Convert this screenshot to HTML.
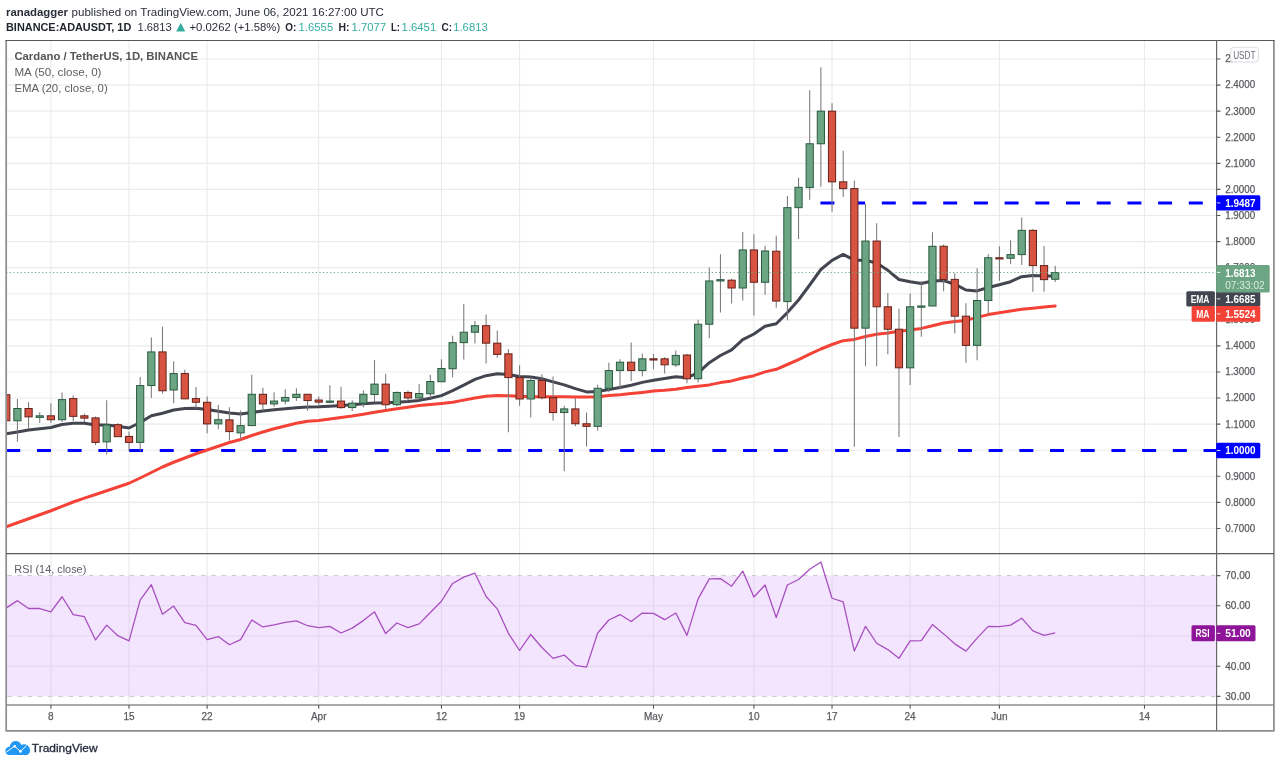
<!DOCTYPE html>
<html><head><meta charset="utf-8"><title>ADAUSDT chart</title>
<style>
html,body{margin:0;padding:0;background:#fff;}
body{width:1280px;height:765px;overflow:hidden;position:relative;font-family:"Liberation Sans", sans-serif;}
svg text{font-family:"Liberation Sans", sans-serif;}
svg{filter:blur(0.4px);}
</style></head><body>
<svg width="1280" height="765" viewBox="0 0 1280 765" style="position:absolute;left:0;top:0">
<defs>
<clipPath id="cm"><rect x="6.2" y="40.5" width="1210.3999999999999" height="513.1"/></clipPath>
<clipPath id="cr"><rect x="6.2" y="553.6" width="1210.3999999999999" height="151.39999999999998"/></clipPath>
</defs>
<rect width="1280" height="765" fill="#fff"/>
<path d="M50.90 40.5 V705.0 M129.01 40.5 V705.0 M207.13 40.5 V705.0 M318.72 40.5 V705.0 M441.46 40.5 V705.0 M519.58 40.5 V705.0 M653.49 40.5 V705.0 M753.92 40.5 V705.0 M832.03 40.5 V705.0 M910.14 40.5 V705.0 M999.42 40.5 V705.0 M1144.48 40.5 V705.0 M6.2 528.49 H1216.6 M6.2 502.41 H1216.6 M6.2 476.32 H1216.6 M6.2 450.24 H1216.6 M6.2 424.16 H1216.6 M6.2 398.07 H1216.6 M6.2 371.99 H1216.6 M6.2 345.91 H1216.6 M6.2 319.83 H1216.6 M6.2 293.74 H1216.6 M6.2 267.66 H1216.6 M6.2 241.58 H1216.6 M6.2 215.49 H1216.6 M6.2 189.41 H1216.6 M6.2 163.33 H1216.6 M6.2 137.24 H1216.6 M6.2 111.16 H1216.6 M6.2 85.08 H1216.6 M6.2 59.00 H1216.6" stroke="#ebebed" stroke-width="1.1" fill="none"/>
<rect x="6.2" y="575.60" width="1210.40" height="120.80" fill="#f3e5fd"/>
<path d="M6.2 605.80 H1216.6 M6.2 636.00 H1216.6 M6.2 666.20 H1216.6" stroke="#e4d5ef" stroke-width="1.1" fill="none"/>
<path d="M50.90 575.60 V696.40 M129.01 575.60 V696.40 M207.13 575.60 V696.40 M318.72 575.60 V696.40 M441.46 575.60 V696.40 M519.58 575.60 V696.40 M653.49 575.60 V696.40 M753.92 575.60 V696.40 M832.03 575.60 V696.40 M910.14 575.60 V696.40 M999.42 575.60 V696.40 M1144.48 575.60 V696.40" stroke="#e4d6ee" stroke-width="1.1" fill="none"/>
<path d="M6.2 575.60 H1216.6" stroke="#c9c4cf" stroke-width="1" stroke-dasharray="4.3 5.9" stroke-dashoffset="-1.2" fill="none"/>
<path d="M6.2 696.40 H1216.6" stroke="#c9c4cf" stroke-width="1" stroke-dasharray="4.3 5.9" stroke-dashoffset="-1.2" fill="none"/>
<g clip-path="url(#cm)">
<path d="M6.25 450.54 H1216.6" stroke="#0000ff" stroke-width="3" stroke-dasharray="14 16.7" fill="none"/>
<path d="M820.4 202.99 H1216.6" stroke="#0000ff" stroke-width="3" stroke-dasharray="14 16.7" fill="none"/>
<polyline points="6.26,526.75 17.42,522.75 28.58,518.75 39.74,514.75 50.90,510.75 62.06,506.40 73.22,502.00 84.38,498.20 95.54,494.50 106.69,490.75 117.85,487.00 129.01,483.25 140.17,478.00 151.33,472.50 162.49,467.00 173.65,462.25 184.81,458.00 195.97,453.75 207.13,450.00 218.29,446.25 229.44,442.50 240.60,439.50 251.76,435.50 262.92,432.00 274.08,428.75 285.24,426.00 296.40,423.25 307.56,421.25 318.72,420.50 329.88,419.00 341.03,417.50 352.19,416.10 363.35,414.20 374.51,412.30 385.67,410.50 396.83,408.80 407.99,407.20 419.15,405.60 430.31,404.50 441.46,403.50 452.62,402.30 463.78,400.10 474.94,398.10 486.10,396.30 497.26,395.60 508.42,395.80 519.58,396.30 530.74,396.80 541.90,396.80 553.06,396.80 564.21,396.80 575.37,397.10 586.53,397.10 597.69,396.80 608.85,395.60 620.01,394.80 631.17,393.60 642.33,392.40 653.49,391.10 664.64,390.30 675.80,389.20 686.96,387.50 698.12,386.30 709.28,384.90 720.44,382.60 731.60,380.90 742.76,378.00 753.92,375.70 765.08,371.90 776.24,369.30 787.39,364.50 798.55,359.70 809.71,354.20 820.87,349.00 832.03,344.50 843.19,340.70 854.35,339.40 865.51,336.50 876.67,334.20 887.83,333.00 898.98,331.30 910.14,329.90 921.30,328.40 932.46,325.80 943.62,323.00 954.78,321.50 965.94,320.40 977.10,317.40 988.26,314.60 999.42,312.80 1010.57,311.00 1021.73,309.30 1032.89,308.20 1044.05,307.00 1055.21,305.90" stroke="#f44336" stroke-width="3" fill="none" stroke-linejoin="round" stroke-linecap="round"/>
<polyline points="6.26,433.80 17.42,432.00 28.58,430.10 39.74,428.80 50.90,427.50 62.06,424.50 73.22,423.30 84.38,423.30 95.54,425.00 106.69,425.00 117.85,426.30 129.01,428.00 140.17,422.50 151.33,415.80 162.49,413.30 173.65,410.00 184.81,408.50 195.97,408.30 207.13,409.50 218.29,411.30 229.44,413.00 240.60,414.00 251.76,412.40 262.92,411.00 274.08,409.80 285.24,408.80 296.40,407.80 307.56,407.10 318.72,406.80 329.88,406.20 341.03,405.50 352.19,404.80 363.35,403.80 374.51,402.90 385.67,402.80 396.83,402.30 407.99,401.50 419.15,400.40 430.31,398.30 441.46,395.60 452.62,390.60 463.78,385.20 474.94,379.40 486.10,375.70 497.26,373.70 508.42,374.50 519.58,376.50 530.74,377.00 541.90,378.70 553.06,381.90 564.21,384.90 575.37,388.60 586.53,391.90 597.69,391.40 608.85,389.40 620.01,387.40 631.17,385.20 642.33,382.40 653.49,380.20 664.64,378.40 675.80,376.80 686.96,377.70 698.12,372.80 709.28,362.70 720.44,355.50 731.60,349.80 742.76,339.70 753.92,334.00 765.08,326.20 776.24,323.70 787.39,312.60 798.55,300.00 809.71,285.00 820.87,269.50 832.03,260.40 843.19,254.40 854.35,260.20 865.51,260.20 876.67,263.10 887.83,270.30 898.98,279.50 910.14,281.80 921.30,283.50 932.46,281.00 943.62,280.60 954.78,284.20 965.94,290.00 977.10,290.90 988.26,287.50 999.42,284.70 1010.57,281.70 1021.73,276.70 1032.89,275.50 1044.05,276.00 1055.21,275.90" stroke="#434651" stroke-width="3" fill="none" stroke-linejoin="round" stroke-linecap="round"/>
<path d="M6.26 394.68 V420.77 M17.42 399.12 V441.63 M28.58 402.25 V429.37 M39.74 412.16 V423.11 M50.90 403.29 V423.11 M62.06 392.60 V422.07 M73.22 395.47 V421.03 M84.38 413.72 V422.07 M95.54 416.59 V445.02 M106.69 400.16 V454.41 M117.85 423.37 V436.68 M129.01 431.46 V450.76 M140.17 376.95 V450.76 M151.33 337.56 V398.07 M162.49 326.87 V393.38 M173.65 361.30 V403.29 M184.81 369.64 V398.86 M195.97 387.12 V408.51 M207.13 396.51 V433.29 M218.29 404.86 V429.37 M229.44 407.33 V440.72 M240.60 410.46 V439.15 M251.76 374.73 V425.59 M262.92 387.77 V410.46 M274.08 392.21 V406.81 M285.24 389.34 V404.20 M296.40 388.29 V401.07 M307.56 394.29 V410.72 M318.72 396.38 V404.73 M329.88 385.16 V403.16 M341.03 386.73 V408.64 M352.19 400.29 V410.99 M363.35 390.38 V407.59 M374.51 360.12 V402.12 M385.67 373.69 V408.90 M396.83 391.42 V406.29 M407.99 390.38 V400.03 M419.15 384.12 V398.99 M430.31 374.73 V397.94 M441.46 359.34 V381.77 M452.62 335.87 V377.34 M463.78 304.04 V359.60 M474.94 321.00 V343.43 M486.10 314.48 V363.51 M497.26 330.39 V357.78 M508.42 349.17 V432.37 M519.58 365.34 V405.77 M530.74 377.60 V417.51 M541.90 374.21 V399.51 M553.06 376.56 V420.64 M564.21 405.77 V471.24 M575.37 398.20 V426.37 M586.53 412.55 V446.46 M597.69 384.64 V430.81 M608.85 362.73 V392.21 M620.01 359.34 V389.60 M631.17 342.39 V380.99 M642.33 353.60 V376.29 M653.49 354.12 V369.25 M664.64 357.25 V373.43 M675.80 350.47 V366.90 M686.96 353.73 V383.21 M698.12 319.83 V382.42 M709.28 267.40 V338.34 M720.44 254.36 V312.52 M731.60 278.87 V303.39 M742.76 231.93 V300.52 M753.92 234.27 V315.39 M765.08 245.75 V294.79 M776.24 235.84 V307.83 M787.39 195.93 V320.35 M798.55 177.67 V238.97 M809.71 90.29 V199.84 M820.87 67.34 V186.80 M832.03 103.34 V211.84 M843.19 150.81 V196.97 M854.35 180.54 V446.85 M865.51 204.02 V366.25 M876.67 223.32 V366.25 M887.83 292.96 V354.25 M898.98 308.87 V436.94 M910.14 293.48 V385.03 M921.30 280.96 V336.78 M932.46 232.19 V306.00 M943.62 244.45 V291.13 M954.78 273.14 V333.39 M965.94 303.13 V362.86 M977.10 268.18 V360.25 M988.26 254.36 V314.09 M999.42 246.27 V280.70 M1010.57 240.27 V264.27 M1021.73 217.58 V265.05 M1032.89 229.06 V291.66 M1044.05 246.01 V291.66 M1055.21 265.65 V281.98" stroke="#79797c" stroke-width="1.05" fill="none"/>
<g fill="#6ba583" stroke="#2a5a3f" stroke-width="1"><rect x="13.82" y="408.51" width="7.2" height="12.26"/><rect x="36.14" y="415.81" width="7.2" height="1.56"/><rect x="58.46" y="399.64" width="7.2" height="20.08"/><rect x="103.09" y="424.94" width="7.2" height="16.95"/><rect x="136.57" y="385.55" width="7.2" height="56.86"/><rect x="147.73" y="351.91" width="7.2" height="33.65"/><rect x="170.05" y="373.56" width="7.2" height="16.43"/><rect x="214.69" y="419.72" width="7.2" height="4.17"/><rect x="237.00" y="425.59" width="7.2" height="7.30"/><rect x="248.16" y="394.29" width="7.2" height="31.30"/><rect x="270.48" y="401.07" width="7.2" height="2.87"/><rect x="281.64" y="397.42" width="7.2" height="3.65"/><rect x="292.80" y="394.29" width="7.2" height="3.13"/><rect x="326.27" y="401.07" width="7.2" height="1.20"/><rect x="348.59" y="403.16" width="7.2" height="4.43"/><rect x="359.75" y="394.29" width="7.2" height="8.87"/><rect x="370.91" y="384.12" width="7.2" height="10.43"/><rect x="393.23" y="392.47" width="7.2" height="12.26"/><rect x="415.55" y="393.51" width="7.2" height="4.43"/><rect x="426.71" y="381.51" width="7.2" height="12.26"/><rect x="437.86" y="368.47" width="7.2" height="13.30"/><rect x="449.02" y="342.65" width="7.2" height="26.08"/><rect x="460.18" y="332.21" width="7.2" height="10.43"/><rect x="471.34" y="325.69" width="7.2" height="6.52"/><rect x="527.14" y="380.47" width="7.2" height="18.52"/><rect x="560.61" y="408.90" width="7.2" height="3.65"/><rect x="594.09" y="388.29" width="7.2" height="38.08"/><rect x="605.25" y="370.56" width="7.2" height="17.74"/><rect x="616.41" y="362.21" width="7.2" height="8.35"/><rect x="638.73" y="358.82" width="7.2" height="11.74"/><rect x="672.20" y="355.43" width="7.2" height="9.39"/><rect x="694.52" y="324.26" width="7.2" height="54.51"/><rect x="705.68" y="280.96" width="7.2" height="43.30"/><rect x="716.84" y="279.66" width="7.2" height="1.30"/><rect x="739.16" y="249.92" width="7.2" height="38.08"/><rect x="761.48" y="250.97" width="7.2" height="31.30"/><rect x="783.79" y="207.67" width="7.2" height="93.90"/><rect x="794.95" y="187.32" width="7.2" height="20.34"/><rect x="806.11" y="143.76" width="7.2" height="43.82"/><rect x="817.27" y="111.16" width="7.2" height="32.60"/><rect x="861.91" y="241.05" width="7.2" height="87.12"/><rect x="906.54" y="306.78" width="7.2" height="61.03"/><rect x="917.70" y="306.00" width="7.2" height="1.20"/><rect x="928.86" y="246.27" width="7.2" height="59.73"/><rect x="973.50" y="300.52" width="7.2" height="44.86"/><rect x="984.66" y="257.75" width="7.2" height="42.78"/><rect x="1006.97" y="254.62" width="7.2" height="3.65"/><rect x="1018.13" y="230.36" width="7.2" height="24.26"/><rect x="1051.61" y="272.54" width="7.2" height="6.73"/></g>
<g fill="#d75442" stroke="#66211a" stroke-width="1"><rect x="2.66" y="394.68" width="7.2" height="26.08"/><rect x="24.98" y="408.51" width="7.2" height="8.35"/><rect x="47.30" y="415.81" width="7.2" height="3.91"/><rect x="69.62" y="398.60" width="7.2" height="17.74"/><rect x="80.78" y="415.81" width="7.2" height="2.35"/><rect x="91.94" y="417.90" width="7.2" height="24.52"/><rect x="114.25" y="424.68" width="7.2" height="12.00"/><rect x="125.41" y="436.42" width="7.2" height="6.00"/><rect x="158.89" y="351.91" width="7.2" height="38.86"/><rect x="181.21" y="373.56" width="7.2" height="25.30"/><rect x="192.37" y="398.60" width="7.2" height="3.65"/><rect x="203.53" y="402.25" width="7.2" height="21.65"/><rect x="225.84" y="419.85" width="7.2" height="11.74"/><rect x="259.32" y="394.29" width="7.2" height="9.65"/><rect x="303.96" y="394.29" width="7.2" height="6.26"/><rect x="315.12" y="400.03" width="7.2" height="2.09"/><rect x="337.43" y="401.07" width="7.2" height="6.52"/><rect x="382.07" y="384.12" width="7.2" height="20.61"/><rect x="404.39" y="392.47" width="7.2" height="5.48"/><rect x="482.50" y="325.69" width="7.2" height="17.48"/><rect x="493.66" y="343.17" width="7.2" height="11.22"/><rect x="504.82" y="353.86" width="7.2" height="23.74"/><rect x="515.98" y="377.60" width="7.2" height="21.39"/><rect x="538.30" y="380.47" width="7.2" height="17.21"/><rect x="549.46" y="397.68" width="7.2" height="14.87"/><rect x="571.77" y="408.90" width="7.2" height="14.87"/><rect x="582.93" y="423.77" width="7.2" height="2.61"/><rect x="627.57" y="362.21" width="7.2" height="8.35"/><rect x="649.89" y="358.82" width="7.2" height="1.20"/><rect x="661.04" y="358.82" width="7.2" height="6.00"/><rect x="683.36" y="355.04" width="7.2" height="23.74"/><rect x="728.00" y="280.18" width="7.2" height="7.82"/><rect x="750.32" y="249.92" width="7.2" height="32.34"/><rect x="772.63" y="251.23" width="7.2" height="49.82"/><rect x="828.43" y="111.16" width="7.2" height="70.68"/><rect x="839.59" y="181.85" width="7.2" height="6.78"/><rect x="850.75" y="188.63" width="7.2" height="139.54"/><rect x="873.07" y="241.05" width="7.2" height="65.73"/><rect x="884.23" y="306.78" width="7.2" height="22.43"/><rect x="895.38" y="329.21" width="7.2" height="38.60"/><rect x="940.02" y="246.27" width="7.2" height="33.13"/><rect x="951.18" y="279.40" width="7.2" height="36.78"/><rect x="962.34" y="316.17" width="7.2" height="29.21"/><rect x="995.82" y="257.75" width="7.2" height="1.20"/><rect x="1029.29" y="230.36" width="7.2" height="35.21"/><rect x="1040.45" y="265.57" width="7.2" height="14.08"/></g>
<path d="M6.2 272.54 H1216.6" stroke="#6ba583" stroke-width="1" stroke-dasharray="1.2 2.4" fill="none"/>
</g>
<g clip-path="url(#cr)">
<polyline points="6.26,607.91 17.42,600.67 28.58,608.52 39.74,608.52 50.90,611.84 62.06,596.74 73.22,614.56 84.38,616.67 95.54,639.93 106.69,625.13 117.85,635.70 129.01,640.83 140.17,600.06 151.33,584.66 162.49,614.26 173.65,606.10 184.81,622.71 195.97,625.43 207.13,639.62 218.29,636.60 229.44,644.76 240.60,639.62 251.76,619.99 262.92,626.94 274.08,624.83 285.24,622.41 296.40,620.90 307.56,625.73 318.72,627.54 329.88,626.34 341.03,632.98 352.19,628.15 363.35,620.60 374.51,611.84 385.67,633.58 396.83,623.01 407.99,627.54 419.15,623.92 430.31,612.44 441.46,601.27 452.62,583.45 463.78,577.11 474.94,573.18 486.10,596.44 497.26,608.82 508.42,633.28 519.58,650.50 530.74,634.49 541.90,647.48 553.06,658.35 564.21,655.03 575.37,665.29 586.53,667.11 597.69,632.98 608.85,619.99 620.01,614.56 631.17,621.50 642.33,613.05 653.49,613.35 664.64,619.69 675.80,613.05 686.96,635.40 698.12,598.85 709.28,578.92 720.44,578.62 731.60,586.17 742.76,571.07 753.92,597.04 765.08,584.96 776.24,617.58 787.39,584.96 798.55,579.53 809.71,569.26 820.87,562.01 832.03,598.25 843.19,601.87 854.35,651.10 865.51,626.34 876.67,643.25 887.83,649.59 898.98,658.35 910.14,640.83 921.30,640.53 932.46,624.52 943.62,633.89 954.78,643.85 965.94,651.10 977.10,638.11 988.26,626.34 999.42,626.64 1010.57,625.13 1021.73,618.18 1032.89,630.87 1044.05,635.40 1055.21,632.98" stroke="#a84fc0" stroke-width="1.3" fill="none" stroke-linejoin="round"/>
</g>
<path d="M6.2 40.5 V730.8 M1273.9 40.5 V730.8 M5.4 730.8 H1274.7" stroke="#8c8c8f" stroke-width="1.7" fill="none"/>
<path d="M6.2 705.0 H1273.9" stroke="#8e8e91" stroke-width="1.6" fill="none"/>
<path d="M5.4 40.5 H1274.7 M6.2 553.6 H1273.9" stroke="#58585c" stroke-width="1.2" fill="none"/>
<path d="M1216.6 40.5 V730.8" stroke="#68686c" stroke-width="1.2" fill="none"/>
<path d="M1216.6 528.49 h3.8 M1216.6 502.41 h3.8 M1216.6 476.32 h3.8 M1216.6 450.24 h3.8 M1216.6 424.16 h3.8 M1216.6 398.07 h3.8 M1216.6 371.99 h3.8 M1216.6 345.91 h3.8 M1216.6 319.83 h3.8 M1216.6 293.74 h3.8 M1216.6 267.66 h3.8 M1216.6 241.58 h3.8 M1216.6 215.49 h3.8 M1216.6 189.41 h3.8 M1216.6 163.33 h3.8 M1216.6 137.24 h3.8 M1216.6 111.16 h3.8 M1216.6 85.08 h3.8 M1216.6 59.00 h3.8 M1216.6 575.60 h3.8 M1216.6 605.80 h3.8 M1216.6 636.00 h3.8 M1216.6 666.20 h3.8 M1216.6 696.40 h3.8 M50.90 705.0 v3.8 M129.01 705.0 v3.8 M207.13 705.0 v3.8 M318.72 705.0 v3.8 M441.46 705.0 v3.8 M519.58 705.0 v3.8 M653.49 705.0 v3.8 M753.92 705.0 v3.8 M832.03 705.0 v3.8 M910.14 705.0 v3.8 M999.42 705.0 v3.8 M1144.48 705.0 v3.8" stroke="#55555a" stroke-width="1.1" fill="none"/>
<text x="1225.20" y="531.89" font-size="10" fill="#5b5b60" font-weight="normal" text-anchor="start" textLength="30.00" lengthAdjust="spacingAndGlyphs" stroke="#5b5b60" stroke-width="0.25">0.7000</text>
<text x="1225.20" y="505.81" font-size="10" fill="#5b5b60" font-weight="normal" text-anchor="start" textLength="30.00" lengthAdjust="spacingAndGlyphs" stroke="#5b5b60" stroke-width="0.25">0.8000</text>
<text x="1225.20" y="479.72" font-size="10" fill="#5b5b60" font-weight="normal" text-anchor="start" textLength="30.00" lengthAdjust="spacingAndGlyphs" stroke="#5b5b60" stroke-width="0.25">0.9000</text>
<text x="1225.20" y="453.64" font-size="10" fill="#5b5b60" font-weight="normal" text-anchor="start" textLength="30.00" lengthAdjust="spacingAndGlyphs" stroke="#5b5b60" stroke-width="0.25">1.0000</text>
<text x="1225.20" y="427.56" font-size="10" fill="#5b5b60" font-weight="normal" text-anchor="start" textLength="30.00" lengthAdjust="spacingAndGlyphs" stroke="#5b5b60" stroke-width="0.25">1.1000</text>
<text x="1225.20" y="401.47" font-size="10" fill="#5b5b60" font-weight="normal" text-anchor="start" textLength="30.00" lengthAdjust="spacingAndGlyphs" stroke="#5b5b60" stroke-width="0.25">1.2000</text>
<text x="1225.20" y="375.39" font-size="10" fill="#5b5b60" font-weight="normal" text-anchor="start" textLength="30.00" lengthAdjust="spacingAndGlyphs" stroke="#5b5b60" stroke-width="0.25">1.3000</text>
<text x="1225.20" y="349.31" font-size="10" fill="#5b5b60" font-weight="normal" text-anchor="start" textLength="30.00" lengthAdjust="spacingAndGlyphs" stroke="#5b5b60" stroke-width="0.25">1.4000</text>
<text x="1225.20" y="323.23" font-size="10" fill="#5b5b60" font-weight="normal" text-anchor="start" textLength="30.00" lengthAdjust="spacingAndGlyphs" stroke="#5b5b60" stroke-width="0.25">1.5000</text>
<text x="1225.20" y="297.14" font-size="10" fill="#5b5b60" font-weight="normal" text-anchor="start" textLength="30.00" lengthAdjust="spacingAndGlyphs" stroke="#5b5b60" stroke-width="0.25">1.6000</text>
<text x="1225.20" y="271.06" font-size="10" fill="#5b5b60" font-weight="normal" text-anchor="start" textLength="30.00" lengthAdjust="spacingAndGlyphs" stroke="#5b5b60" stroke-width="0.25">1.7000</text>
<text x="1225.20" y="244.98" font-size="10" fill="#5b5b60" font-weight="normal" text-anchor="start" textLength="30.00" lengthAdjust="spacingAndGlyphs" stroke="#5b5b60" stroke-width="0.25">1.8000</text>
<text x="1225.20" y="218.89" font-size="10" fill="#5b5b60" font-weight="normal" text-anchor="start" textLength="30.00" lengthAdjust="spacingAndGlyphs" stroke="#5b5b60" stroke-width="0.25">1.9000</text>
<text x="1225.20" y="192.81" font-size="10" fill="#5b5b60" font-weight="normal" text-anchor="start" textLength="30.00" lengthAdjust="spacingAndGlyphs" stroke="#5b5b60" stroke-width="0.25">2.0000</text>
<text x="1225.20" y="166.73" font-size="10" fill="#5b5b60" font-weight="normal" text-anchor="start" textLength="30.00" lengthAdjust="spacingAndGlyphs" stroke="#5b5b60" stroke-width="0.25">2.1000</text>
<text x="1225.20" y="140.64" font-size="10" fill="#5b5b60" font-weight="normal" text-anchor="start" textLength="30.00" lengthAdjust="spacingAndGlyphs" stroke="#5b5b60" stroke-width="0.25">2.2000</text>
<text x="1225.20" y="114.56" font-size="10" fill="#5b5b60" font-weight="normal" text-anchor="start" textLength="30.00" lengthAdjust="spacingAndGlyphs" stroke="#5b5b60" stroke-width="0.25">2.3000</text>
<text x="1225.20" y="88.48" font-size="10" fill="#5b5b60" font-weight="normal" text-anchor="start" textLength="30.00" lengthAdjust="spacingAndGlyphs" stroke="#5b5b60" stroke-width="0.25">2.4000</text>
<text x="1225.20" y="62.40" font-size="10" fill="#5b5b60" font-weight="normal" text-anchor="start" textLength="30.00" lengthAdjust="spacingAndGlyphs" stroke="#5b5b60" stroke-width="0.25">2.5000</text>
<text x="1225.20" y="579.00" font-size="10" fill="#5b5b60" font-weight="normal" text-anchor="start" textLength="25.20" lengthAdjust="spacingAndGlyphs" stroke="#5b5b60" stroke-width="0.25">70.00</text>
<text x="1225.20" y="609.20" font-size="10" fill="#5b5b60" font-weight="normal" text-anchor="start" textLength="25.20" lengthAdjust="spacingAndGlyphs" stroke="#5b5b60" stroke-width="0.25">60.00</text>
<text x="1225.20" y="639.40" font-size="10" fill="#5b5b60" font-weight="normal" text-anchor="start" textLength="25.20" lengthAdjust="spacingAndGlyphs" stroke="#5b5b60" stroke-width="0.25">50.00</text>
<text x="1225.20" y="669.60" font-size="10" fill="#5b5b60" font-weight="normal" text-anchor="start" textLength="25.20" lengthAdjust="spacingAndGlyphs" stroke="#5b5b60" stroke-width="0.25">40.00</text>
<text x="1225.20" y="699.80" font-size="10" fill="#5b5b60" font-weight="normal" text-anchor="start" textLength="25.20" lengthAdjust="spacingAndGlyphs" stroke="#5b5b60" stroke-width="0.25">30.00</text>
<text x="50.90" y="720.20" font-size="10" fill="#5b5b60" font-weight="normal" text-anchor="middle" stroke="#5b5b60" stroke-width="0.25">8</text>
<text x="129.01" y="720.20" font-size="10" fill="#5b5b60" font-weight="normal" text-anchor="middle" stroke="#5b5b60" stroke-width="0.25">15</text>
<text x="207.13" y="720.20" font-size="10" fill="#5b5b60" font-weight="normal" text-anchor="middle" stroke="#5b5b60" stroke-width="0.25">22</text>
<text x="318.72" y="720.20" font-size="10" fill="#5b5b60" font-weight="normal" text-anchor="middle" stroke="#5b5b60" stroke-width="0.25">Apr</text>
<text x="441.46" y="720.20" font-size="10" fill="#5b5b60" font-weight="normal" text-anchor="middle" stroke="#5b5b60" stroke-width="0.25">12</text>
<text x="519.58" y="720.20" font-size="10" fill="#5b5b60" font-weight="normal" text-anchor="middle" stroke="#5b5b60" stroke-width="0.25">19</text>
<text x="653.49" y="720.20" font-size="10" fill="#5b5b60" font-weight="normal" text-anchor="middle" stroke="#5b5b60" stroke-width="0.25">May</text>
<text x="753.92" y="720.20" font-size="10" fill="#5b5b60" font-weight="normal" text-anchor="middle" stroke="#5b5b60" stroke-width="0.25">10</text>
<text x="832.03" y="720.20" font-size="10" fill="#5b5b60" font-weight="normal" text-anchor="middle" stroke="#5b5b60" stroke-width="0.25">17</text>
<text x="910.14" y="720.20" font-size="10" fill="#5b5b60" font-weight="normal" text-anchor="middle" stroke="#5b5b60" stroke-width="0.25">24</text>
<text x="999.42" y="720.20" font-size="10" fill="#5b5b60" font-weight="normal" text-anchor="middle" stroke="#5b5b60" stroke-width="0.25">Jun</text>
<text x="1144.48" y="720.20" font-size="10" fill="#5b5b60" font-weight="normal" text-anchor="middle" stroke="#5b5b60" stroke-width="0.25">14</text>
<rect x="1230.7" y="47.3" width="27.7" height="14.6" rx="3" ry="3" fill="#fff" stroke="#d9dce3" stroke-width="1"/>
<text x="1233.20" y="58.90" font-size="10" fill="#6a6d78" font-weight="normal" text-anchor="start" textLength="22.30" lengthAdjust="spacingAndGlyphs">USDT</text>
<rect x="1216.1999999999998" y="195.20" width="44.10" height="15.4" rx="1.5" fill="#0000ff"/>
<path d="M1216.8999999999999 202.90 h3.5" stroke="#fff" stroke-width="1" opacity="0.85"/>
<text x="1225.20" y="206.60" font-size="10" fill="#fff" font-weight="bold" text-anchor="start" textLength="30.30" lengthAdjust="spacingAndGlyphs">1.9487</text>
<rect x="1216.1999999999998" y="442.80" width="44.10" height="15.4" rx="1.5" fill="#0000ff"/>
<path d="M1216.8999999999999 450.50 h3.5" stroke="#fff" stroke-width="1" opacity="0.85"/>
<text x="1225.20" y="454.20" font-size="10" fill="#fff" font-weight="bold" text-anchor="start" textLength="30.30" lengthAdjust="spacingAndGlyphs">1.0000</text>
<rect x="1216.1999999999998" y="291.30" width="44.10" height="15.2" rx="1.5" fill="#434651"/>
<path d="M1216.8999999999999 298.90 h3.5" stroke="#fff" stroke-width="1" opacity="0.85"/>
<text x="1225.20" y="302.60" font-size="10" fill="#fff" font-weight="bold" text-anchor="start" textLength="30.30" lengthAdjust="spacingAndGlyphs">1.6685</text>
<rect x="1186.3" y="291.30" width="28.60" height="15.2" rx="1.5" fill="#434651"/>
<text x="1209.50" y="302.60" font-size="10" fill="#fff" font-weight="bold" text-anchor="end" textLength="18.80" lengthAdjust="spacingAndGlyphs">EMA</text>
<rect x="1216.1999999999998" y="306.10" width="44.10" height="15.6" rx="1.5" fill="#f44336"/>
<path d="M1216.8999999999999 313.90 h3.5" stroke="#fff" stroke-width="1" opacity="0.85"/>
<text x="1225.20" y="317.60" font-size="10" fill="#fff" font-weight="bold" text-anchor="start" textLength="30.30" lengthAdjust="spacingAndGlyphs">1.5524</text>
<rect x="1191.6" y="306.10" width="23.30" height="15.6" rx="1.5" fill="#f44336"/>
<text x="1209.50" y="317.60" font-size="10" fill="#fff" font-weight="bold" text-anchor="end" textLength="13.20" lengthAdjust="spacingAndGlyphs">MA</text>
<rect x="1216.1999999999998" y="264.9" width="53.50" height="27.7" rx="1.5" fill="#6ba583"/>
<path d="M1216.8999999999999 272.4 h3.5" stroke="#fff" stroke-width="1" opacity="0.85"/>
<text x="1225.20" y="276.60" font-size="10" fill="#fff" font-weight="bold" text-anchor="start" textLength="30.30" lengthAdjust="spacingAndGlyphs">1.6813</text>
<text x="1225.20" y="288.80" font-size="10" fill="#d9ebe0" font-weight="normal" text-anchor="start" textLength="39.50" lengthAdjust="spacingAndGlyphs">07:33:02</text>
<rect x="1216.1999999999998" y="625.30" width="39.30" height="16" rx="1.5" fill="#8e1599"/>
<path d="M1216.8999999999999 633.30 h3.5" stroke="#fff" stroke-width="1" opacity="0.85"/>
<text x="1225.20" y="637.00" font-size="10" fill="#fff" font-weight="bold" text-anchor="start" textLength="25.60" lengthAdjust="spacingAndGlyphs">51.00</text>
<rect x="1191.5" y="625.30" width="23.40" height="16" rx="1.5" fill="#8e1599"/>
<text x="1209.50" y="637.00" font-size="10" fill="#fff" font-weight="bold" text-anchor="end" textLength="14.00" lengthAdjust="spacingAndGlyphs">RSI</text>
<text x="14.40" y="60.20" font-size="11.2" fill="#55555a" font-weight="bold" text-anchor="start" textLength="183.60" lengthAdjust="spacingAndGlyphs">Cardano / TetherUS, 1D, BINANCE</text>
<text x="14.40" y="76.00" font-size="11.2" fill="#5d5d62" font-weight="normal" text-anchor="start" textLength="87.10" lengthAdjust="spacingAndGlyphs">MA (50, close, 0)</text>
<text x="14.40" y="91.70" font-size="11.2" fill="#5d5d62" font-weight="normal" text-anchor="start" textLength="93.40" lengthAdjust="spacingAndGlyphs">EMA (20, close, 0)</text>
<text x="14.30" y="573.00" font-size="11.2" fill="#5d5d62" font-weight="normal" text-anchor="start" textLength="72.00" lengthAdjust="spacingAndGlyphs">RSI (14, close)</text>
<text x="6.00" y="15.60" font-size="11.3" fill="#2b2e38" font-weight="bold" text-anchor="start" textLength="62.00" lengthAdjust="spacingAndGlyphs">ranadagger</text>
<text x="71.50" y="15.60" font-size="11.3" fill="#2b2e38" font-weight="normal" text-anchor="start" textLength="312.50" lengthAdjust="spacingAndGlyphs">published on TradingView.com, June 06, 2021 16:27:00 UTC</text>
<text x="6.00" y="31.20" font-size="11.3" fill="#23262f" font-weight="bold" text-anchor="start" textLength="125.30" lengthAdjust="spacingAndGlyphs">BINANCE:ADAUSDT, 1D</text>
<text x="137.50" y="31.20" font-size="11.3" fill="#2b2e38" font-weight="normal" text-anchor="start" textLength="34.10" lengthAdjust="spacingAndGlyphs">1.6813</text>
<path d="M176.2 31.6 L180.7 22.8 L185.2 31.6 Z" fill="#33ada0"/>
<text x="189.50" y="31.20" font-size="11.3" fill="#2b2e38" font-weight="normal" text-anchor="start" textLength="90.70" lengthAdjust="spacingAndGlyphs">+0.0262 (+1.58%)</text>
<text x="285.30" y="31.20" font-size="11.3" fill="#23262f" font-weight="bold" text-anchor="start" textLength="11.00" lengthAdjust="spacingAndGlyphs">O:</text>
<text x="298.60" y="31.20" font-size="11.3" fill="#33ada0" font-weight="normal" text-anchor="start" textLength="34.60" lengthAdjust="spacingAndGlyphs">1.6555</text>
<text x="338.50" y="31.20" font-size="11.3" fill="#23262f" font-weight="bold" text-anchor="start" textLength="11.00" lengthAdjust="spacingAndGlyphs">H:</text>
<text x="351.60" y="31.20" font-size="11.3" fill="#33ada0" font-weight="normal" text-anchor="start" textLength="34.60" lengthAdjust="spacingAndGlyphs">1.7077</text>
<text x="391.00" y="31.20" font-size="11.3" fill="#23262f" font-weight="bold" text-anchor="start" textLength="9.00" lengthAdjust="spacingAndGlyphs">L:</text>
<text x="401.60" y="31.20" font-size="11.3" fill="#33ada0" font-weight="normal" text-anchor="start" textLength="34.60" lengthAdjust="spacingAndGlyphs">1.6451</text>
<text x="441.50" y="31.20" font-size="11.3" fill="#23262f" font-weight="bold" text-anchor="start" textLength="10.50" lengthAdjust="spacingAndGlyphs">C:</text>
<text x="453.20" y="31.20" font-size="11.3" fill="#33ada0" font-weight="normal" text-anchor="start" textLength="34.60" lengthAdjust="spacingAndGlyphs">1.6813</text>
<g transform="translate(5.27,740.9)">
<path d="M3.6 14.06 C1.4 14.06 0 12.3 0 10.2 C0 7.8 1.8 5.7 4.6 5.5 C5.0 2.4 7.4 0 10.4 0 C13.0 0 15.2 1.6 15.9 3.9 C16.8 3.5 17.9 3.3 19.0 3.3 C22.3 3.3 24.8 6.3 24.8 9.6 C24.8 12.2 23.0 14.06 20.6 14.06 Z" fill="#2196f3"/>
<path d="M0.6 11.4 L9.4 5.3 L15.2 10.5 L21.4 4.6" stroke="#fff" stroke-width="0.95" fill="none" stroke-linejoin="round"/>
<circle cx="9.4" cy="5.4" r="1.35" fill="#fff"/><circle cx="15.2" cy="10.5" r="1.35" fill="#fff"/>
</g>
<text x="31.80" y="751.80" font-size="11.7" fill="#262b3e" font-weight="normal" text-anchor="start" textLength="65.80" lengthAdjust="spacingAndGlyphs" stroke="#262b3e" stroke-width="0.3">TradingView</text>
</svg>
</body></html>
